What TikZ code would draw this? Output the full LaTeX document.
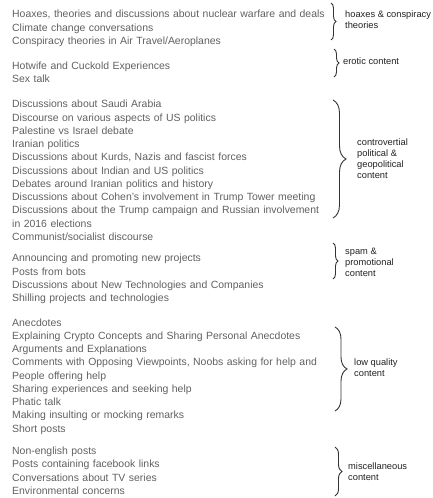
\documentclass[tikz,border=0pt]{standalone}
\usepackage{fontspec}
\setmainfont{Liberation Sans}
\usetikzlibrary{positioning, decorations.pathreplacing}
\definecolor{itemgray}{HTML}{606060}
\definecolor{taggray}{HTML}{222222}
\definecolor{bracegray}{HTML}{333333}

\begin{document}
\begin{tikzpicture}[
   x = 1pt, y = -1pt,
   node distance = 5.35pt,
   item/.style = {anchor=west, inner sep=0pt, text width=318pt, align=left,
      text height=7.5pt, text depth=0pt, text=itemgray,
      font=\fontsize{10.45}{12.85}\selectfont},
   tag/.style = {anchor=west, inner sep=0pt, align=left, text=taggray,
      font=\fontsize{9.3}{11}\selectfont},
   curly/.style = {draw=bracegray, line width=0.9pt, decorate,
      decoration={brace, amplitude=#1}}]
   \useasboundingbox (0,0) rectangle (432,498);

   % hoaxes
   \node[item] (hoax1) at (12,14) {Hoaxes, theories and discussions about nuclear warfare and deals};
   \node[item, below=of hoax1] (hoax2) {Climate change conversations};
   \node[item, below=of hoax2] (hoax3) {Conspiracy theories in Air Travel/Aeroplanes};

   % erotic
   \node[item] (ero1) at (12,65.4) {Hotwife and Cuckold Experiences};
   \node[item, below=of ero1] (ero2) {Sex talk};

   % politics
   \node[item] (pol1) at (12,104) {Discussions about Saudi Arabia};
   \node[item, below=of pol1] (pol2) {Discourse on various aspects of US politics};
   \node[item, below=of pol2] (pol3) {Palestine vs Israel debate};
   \node[item, below=of pol3] (pol4) {Iranian politics};
   \node[item, below=of pol4] (pol5) {Discussions about Kurds, Nazis and fascist forces};
   \node[item, below=of pol5] (pol6) {Discussions about Indian and US politics};
   \node[item, below=of pol6] (pol7) {Debates around Iranian politics and history};
   \node[item, below=of pol7] (pol8) {Discussions about Cohen's involvement in Trump Tower meeting};
   \node[item, below=of pol8] (pol9) {Discussions about the Trump campaign and Russian involvement};
   \node[item, below=of pol9] (pol10) {in 2016 elections};
   \node[item, below=of pol10] (pol11) {Communist/socialist discourse};

   % spam
   \node[item] (spam1) at (12,258.1) {Announcing and promoting new projects};
   \node[item, below=of spam1] (spam2) {Posts from bots};
   \node[item, below=of spam2] (spam3) {Discussions about New Technologies and Companies};
   \node[item, below=of spam3] (spam4) {Shilling projects and technologies};

   % low quality
   \node[item] (low1) at (12,322.4) {Anecdotes};
   \node[item, below=of low1] (low2) {Explaining Crypto Concepts and Sharing Personal Anecdotes};
   \node[item, below=of low2] (low3) {Arguments and Explanations};
   \node[item, below=of low3] (low4) {Comments with Opposing Viewpoints, Noobs asking for help and};
   \node[item, below=of low4] (low5) {People offering help};
   \node[item, below=of low5] (low6) {Sharing experiences and seeking help};
   \node[item, below=of low6] (low7) {Phatic talk};
   \node[item, below=of low7] (low8) {Making insulting or mocking remarks};
   \node[item, below=of low8] (low9) {Short posts};

   % misc
   \node[item] (misc1) at (12,450.9) {Non-english posts};
   \node[item, below=of misc1] (misc2) {Posts containing facebook links};
   \node[item, below=of misc2] (misc3) {Conversations about TV series};
   \node[item, below=of misc3] (misc4) {Environmental concerns};

   % braces
   \coordinate (hoaxT) at (331,3);
   \coordinate (hoaxB) at (331,40);
   \coordinate (eroT) at (334,49);
   \coordinate (eroB) at (334,77);
   \coordinate (polT) at (333,100);
   \coordinate (polB) at (333,218);
   \coordinate (spamT) at (333,243);
   \coordinate (spamB) at (333,279);
   \coordinate (lowT) at (335,327);
   \coordinate (lowB) at (335,411);
   \coordinate (miscT) at (335,447);
   \coordinate (miscB) at (335,496);

   \draw[curly=5pt] (hoaxT) -- (hoaxB);
   \draw[curly=5pt] (eroT) -- (eroB);
   \draw[curly=13pt] (polT) -- (polB);
   \draw[curly=5pt] (spamT) -- (spamB);
   \draw[curly=12pt] (lowT) -- (lowB);
   \draw[curly=7pt] (miscT) -- (miscB);

   % labels
   \node[tag] (hoaxtag) at (345,19.5) {hoaxes \& conspiracy\\theories};
   \node[tag] (erotag) at (343,61) {erotic content};
   \node[tag] (poltag) at (357,158.5) {controvertial\\political \&\\geopolitical\\content};
   \node[tag] (spamtag) at (345,262.5) {spam \&\\promotional\\content};
   \node[tag] (lowtag) at (354,368) {low quality\\content};
   \node[tag] (misctag) at (348,471.5) {miscellaneous\\content};
\end{tikzpicture}
\end{document}
